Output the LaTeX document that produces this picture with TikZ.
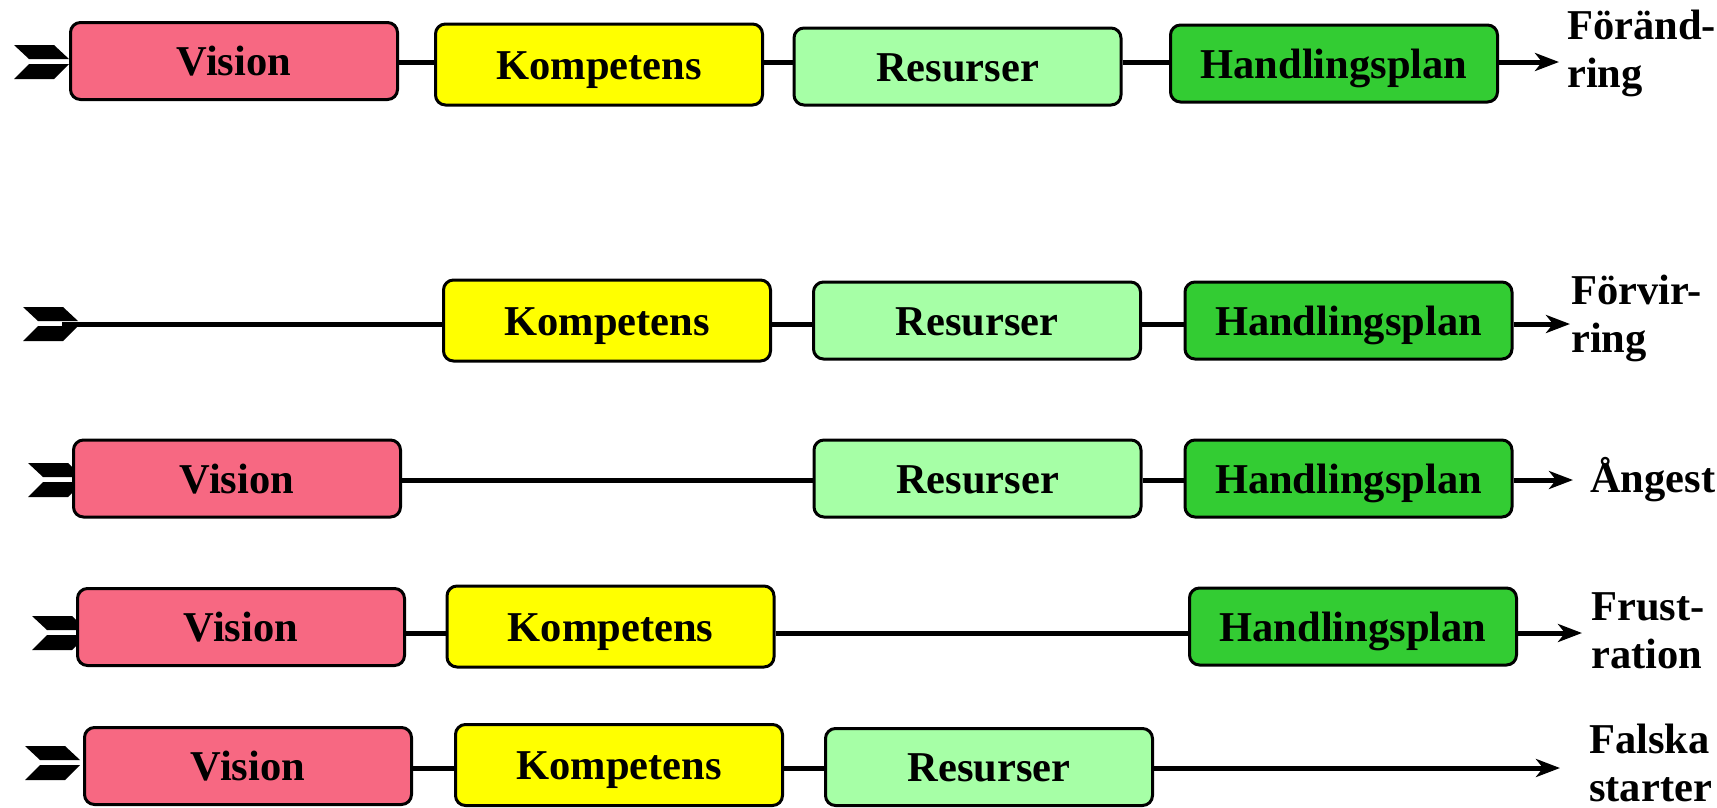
\documentclass[tikz,border=0pt]{standalone}
\usepackage{fontspec}
\setmainfont{Liberation Serif}
\usetikzlibrary{arrows.meta,backgrounds}
\definecolor{vispink}{RGB}{247,104,130}
\definecolor{kompyellow}{RGB}{255,255,0}
\definecolor{resgreen}{RGB}{166,255,166}
\definecolor{handgreen}{RGB}{51,204,51}
\tikzset{
  box/.style={draw=black, line width=3pt, rounded corners=10pt,
    minimum width=327pt, minimum height=77pt, inner sep=0pt,
    text height=29pt, text depth=0pt},
  visbox/.style={box, fill=vispink},
  kompbox/.style={box, fill=kompyellow, minimum height=81pt},
  resbox/.style={box, fill=resgreen},
  handbox/.style={box, fill=handgreen},
  conn/.style={line width=5pt},
  outarrow/.style={conn, -{Stealth[length=24pt,width=18pt,inset=7pt]}},
  lbl/.style={anchor=base west, inner sep=0pt},
  fletch/.pic={
    \fill[black] (-55,-17) -- (-15,-17) -- (0,-3) -- (-40,-3) -- cycle;
    \fill[black] (-40,2) -- (0,2) -- (-15,17) -- (-55,17) -- cycle;
  }
}
\begin{document}
\begin{tikzpicture}[x=1pt,y=-1pt,font=\fontsize{42.5}{48}\selectfont\bfseries]
\useasboundingbox (0,0) rectangle (1717,807);
% row levels
\coordinate (r1) at (0,62);
\coordinate (r2) at (0,324);
\coordinate (r3) at (0,480);
\coordinate (r4) at (0,633);
\coordinate (r5) at (0,768);
% boxes
\node[visbox]  (V1) at (234,61)    {Vision};
\node[kompbox] (K1) at (599,64.5)  {Kompetens};
\node[resbox]  (R1) at (957.5,66.5){Resurser};
\node[handbox] (H1) at (1334,63.5) {Handlingsplan};

\node[kompbox] (K2) at (607,320.5)   {Kompetens};
\node[resbox]  (R2) at (977,320.5)   {Resurser};
\node[handbox] (H2) at (1348.5,320.5){Handlingsplan};

\node[visbox]  (V3) at (237,478.5)   {Vision};
\node[resbox]  (R3) at (977.5,478.5) {Resurser};
\node[handbox] (H3) at (1348.5,478.5){Handlingsplan};

\node[visbox]  (V4) at (241,627)     {Vision};
\node[kompbox] (K4) at (610.5,626.5) {Kompetens};
\node[handbox] (H4) at (1353,626.5)  {Handlingsplan};

\node[visbox]  (V5) at (248,766)     {Vision};
\node[kompbox] (K5) at (619,765)     {Kompetens};
\node[resbox]  (R5) at (989,767)     {Resurser};
% labels
\node[lbl] (L1) at (1567,39)  {\begin{tabular}[t]{@{}l@{}}Föränd-\\ring\end{tabular}};
\node[lbl] (L2) at (1571,304) {\begin{tabular}[t]{@{}l@{}}Förvir-\\ring\end{tabular}};
\node[lbl] (L3) at (1590,492) {Ångest};
\node[lbl] (L4) at (1591,620) {\begin{tabular}[t]{@{}l@{}}Frust-\\ration\end{tabular}};
\node[lbl] (L5) at (1589,753) {\begin{tabular}[t]{@{}l@{}}Falska\\starter\end{tabular}};
% arrow ends and tails
\coordinate (e1) at (1559,62);
\coordinate (e2) at (1570,324);
\coordinate (e3) at (1573,480);
\coordinate (e4) at (1582,633);
\coordinate (e5) at (1560,768);
\coordinate (s2) at (62,324);
\coordinate (f1) at (69,62);
\coordinate (f2) at (78,324);
\coordinate (f3) at (83,480);
\coordinate (f4) at (87,633);
\coordinate (f5) at (80,763);
\begin{pgfonlayer}{background}
  \pic at (f1) {fletch};
  \pic at (f2) {fletch};
  \pic at (f3) {fletch};
  \pic at (f4) {fletch};
  \pic at (f5) {fletch};
  % row 1
  \draw[conn] (V1.east |- r1) -- (K1.west |- r1);
  \draw[conn] (K1.east |- r1) -- (R1.west |- r1);
  \draw[conn] (R1.east |- r1) -- (H1.west |- r1);
  \draw[outarrow] (H1.east |- r1) -- (e1);
  % row 2
  \draw[conn] (s2) -- (K2.west |- r2);
  \draw[conn] (K2.east |- r2) -- (R2.west |- r2);
  \draw[conn] (R2.east |- r2) -- (H2.west |- r2);
  \draw[outarrow] (H2.east |- r2) -- (e2);
  % row 3
  \draw[conn] (V3.east |- r3) -- (R3.west |- r3);
  \draw[conn] (R3.east |- r3) -- (H3.west |- r3);
  \draw[outarrow] (H3.east |- r3) -- (e3);
  % row 4
  \draw[conn] (V4.east |- r4) -- (K4.west |- r4);
  \draw[conn] (K4.east |- r4) -- (H4.west |- r4);
  \draw[outarrow] (H4.east |- r4) -- (e4);
  % row 5
  \draw[conn] (V5.east |- r5) -- (K5.west |- r5);
  \draw[conn] (K5.east |- r5) -- (R5.west |- r5);
  \draw[outarrow] (R5.east |- r5) -- (e5);
\end{pgfonlayer}
\end{tikzpicture}
\end{document}
